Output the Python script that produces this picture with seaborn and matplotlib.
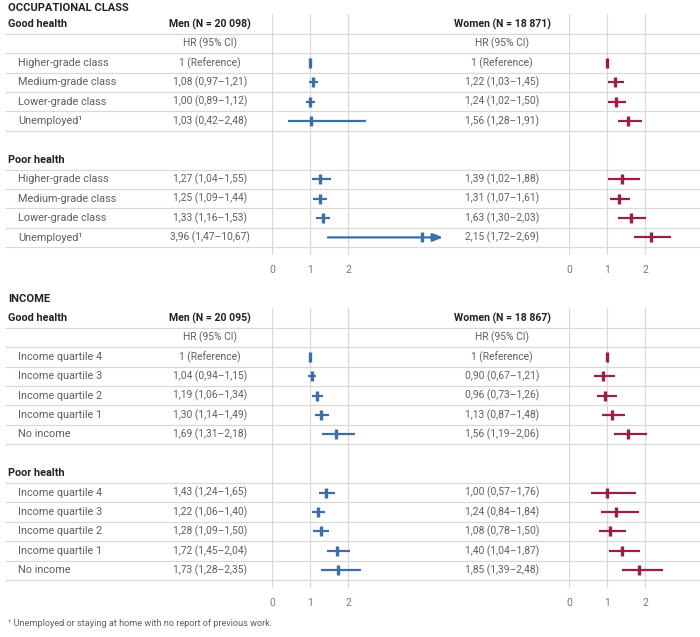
import numpy as np
import pandas as pd
import matplotlib.pyplot as plt
import seaborn as sns

sns.set_theme(style='white')
plt.rcParams['font.family'] = ['Roboto', 'DejaVu Sans']

# ---- data: occupational class ----
occ_cats = ['Higher-grade class', 'Medium-grade class', 'Lower-grade class', 'Unemployed\u00b9']
occ_men_n = '20 098'
occ_women_n = '18 871'
occ_men_good_hr = [1.00, 1.08, 1.00, 1.03]
occ_men_good_lo = [np.nan, 0.97, 0.89, 0.42]
occ_men_good_hi = [np.nan, 1.21, 1.12, 2.48]
occ_women_good_hr = [1.00, 1.22, 1.24, 1.56]
occ_women_good_lo = [np.nan, 1.03, 1.02, 1.28]
occ_women_good_hi = [np.nan, 1.45, 1.50, 1.91]
occ_men_poor_hr = [1.27, 1.25, 1.33, 3.96]
occ_men_poor_lo = [1.04, 1.09, 1.16, 1.47]
occ_men_poor_hi = [1.55, 1.44, 1.53, 10.67]
occ_women_poor_hr = [1.39, 1.31, 1.63, 2.15]
occ_women_poor_lo = [1.02, 1.07, 1.30, 1.72]
occ_women_poor_hi = [1.88, 1.61, 2.03, 2.69]

# ---- data: income ----
inc_cats = ['Income quartile 4', 'Income quartile 3', 'Income quartile 2', 'Income quartile 1', 'No income']
inc_men_n = '20 095'
inc_women_n = '18 867'
inc_men_good_hr = [1.00, 1.04, 1.19, 1.30, 1.69]
inc_men_good_lo = [np.nan, 0.94, 1.06, 1.14, 1.31]
inc_men_good_hi = [np.nan, 1.15, 1.34, 1.49, 2.18]
inc_women_good_hr = [1.00, 0.90, 0.96, 1.13, 1.56]
inc_women_good_lo = [np.nan, 0.67, 0.73, 0.87, 1.19]
inc_women_good_hi = [np.nan, 1.21, 1.26, 1.48, 2.06]
inc_men_poor_hr = [1.43, 1.22, 1.28, 1.72, 1.73]
inc_men_poor_lo = [1.24, 1.06, 1.09, 1.45, 1.28]
inc_men_poor_hi = [1.65, 1.40, 1.50, 2.04, 2.35]
inc_women_poor_hr = [1.00, 1.24, 1.08, 1.40, 1.85]
inc_women_poor_lo = [0.57, 0.84, 0.78, 1.04, 1.39]
inc_women_poor_hi = [1.76, 1.84, 1.50, 1.87, 2.48]

ticks = [0, 1, 2]
footnote = '\u00b9 Unemployed or staying at home with no report of previous work.'

BLUE = '#3d6ea6'
RED = '#9a1f42'
DARK = '#222222'
GREY = '#5f5f5f'
LINE = '#d9d9d9'

W, H = 700, 637
ROW = 19.4          # px per table row
PX_UNIT = 38        # px per HR unit
MEN_CAP = 4.5       # CI beyond this is drawn as an arrow

fig = plt.figure(figsize=(7, 6.37), dpi=100)


def fmt(hr, lo, hi):
    if np.isnan(lo):
        return '1 (Reference)'
    f = lambda v: f'{v:.2f}'.replace('.', ',')
    return f'{f(hr)} ({f(lo)}\u2013{f(hi)})'


def forest(ax, rows, hr, lo, hi, color, cap=None):
    df = pd.DataFrame({'row': rows, 'hr': hr, 'lo': lo, 'hi': hi})
    ci = df.dropna()
    if cap is not None:
        over = ci[ci.hi > cap]
        ci = ci[ci.hi <= cap]
        for _, r in over.iterrows():
            ax.annotate('', xy=(cap, r.row), xytext=(r.lo, r.row),
                        arrowprops=dict(arrowstyle='-|>,head_length=0.5,head_width=0.2',
                                        color=color, lw=1.6, shrinkA=0, shrinkB=0))
    ax.hlines(ci.row, ci.lo, ci.hi, color=color, lw=1.6)
    sns.scatterplot(data=df, x='hr', y='row', marker='|', s=45, linewidth=2.4,
                    color=color, edgecolor=color, ax=ax, legend=False, zorder=3)


def section(top_px, title, title_y, cats, men_n, women_n, men, women):
    n = len(cats)
    nrows = 4 + 2 * n
    bottom_px = top_px + ROW * (nrows + 0.42)
    b = 1 - bottom_px / H
    h = (bottom_px - top_px) / H
    ylim = (nrows - 1 + 0.92, -0.5)

    tab = fig.add_axes([0, b, 1, h])
    tab.set_xlim(0, W)
    tab.set_ylim(*ylim)
    tab.axis('off')

    good_rows = list(range(2, 2 + n))
    poor_rows = list(range(4 + n, 4 + 2 * n))
    blank = 2 + n
    for i in range(nrows):
        if i != blank:
            tab.hlines(i + 0.5, 5, W, color=LINE, lw=0.9)

    tab.text(8, title_y, title, ha='left', va='center', fontsize=8, fontweight='bold', color=DARK)
    tab.text(8, 0, 'Good health', ha='left', va='center', fontsize=7.8, fontweight='bold', color=DARK)
    tab.text(8, 3 + n, 'Poor health', ha='left', va='center', fontsize=7.8, fontweight='bold', color=DARK)
    tab.text(210, 0, f'Men (N = {men_n})', ha='center', va='center', fontsize=7.6, fontweight='bold', color=DARK)
    tab.text(502, 0, f'Women (N = {women_n})', ha='center', va='center', fontsize=7.6, fontweight='bold', color=DARK)
    tab.text(210, 1, 'HR (95% CI)', ha='center', va='center', fontsize=7.4, color=GREY)
    tab.text(502, 1, 'HR (95% CI)', ha='center', va='center', fontsize=7.4, color=GREY)

    (mg_hr, mg_lo, mg_hi), (mp_hr, mp_lo, mp_hi) = men
    (wg_hr, wg_lo, wg_hi), (wp_hr, wp_lo, wp_hi) = women
    for rows, mh, ml, mu, wh, wl, wu in [(good_rows, mg_hr, mg_lo, mg_hi, wg_hr, wg_lo, wg_hi),
                                         (poor_rows, mp_hr, mp_lo, mp_hi, wp_hr, wp_lo, wp_hi)]:
        for k, r in enumerate(rows):
            tab.text(18, r, cats[k], ha='left', va='center', fontsize=7.8, color=GREY)
            tab.text(210, r, fmt(mh[k], ml[k], mu[k]), ha='center', va='center', fontsize=7.4, color=GREY)
            tab.text(502, r, fmt(wh[k], wl[k], wu[k]), ha='center', va='center', fontsize=7.4, color=GREY)

    axes = []
    for left_px, right_px in [(272, 272 + 4.6 * PX_UNIT), (569, W)]:
        ax = fig.add_axes([left_px / W, b, (right_px - left_px) / W, h])
        ax.set_xlim(0, (right_px - left_px) / PX_UNIT)
        ax.set_ylim(*ylim)
        ax.patch.set_alpha(0)
        for s in ax.spines.values():
            s.set_visible(False)
        for t in ticks:
            ax.axvline(t, color=LINE, lw=0.9, zorder=0)
        ax.set_xticks(ticks)
        ax.set_xticklabels([str(t) for t in ticks], fontsize=7.4, color='#777777')
        ax.tick_params(axis='x', length=0, pad=7)
        ax.set_yticks([])
        axes.append(ax)

    forest(axes[0], good_rows, mg_hr, mg_lo, mg_hi, BLUE, cap=MEN_CAP)
    forest(axes[0], poor_rows, mp_hr, mp_lo, mp_hi, BLUE, cap=MEN_CAP)
    forest(axes[1], good_rows, wg_hr, wg_lo, wg_hi, RED)
    forest(axes[1], poor_rows, wp_hr, wp_lo, wp_hi, RED)
    for ax in axes:
        ax.set_xlabel('')
        ax.set_ylabel('')


section(14.3, 'OCCUPATIONAL CLASS', -0.85, occ_cats, occ_men_n, occ_women_n,
        [(occ_men_good_hr, occ_men_good_lo, occ_men_good_hi), (occ_men_poor_hr, occ_men_poor_lo, occ_men_poor_hi)],
        [(occ_women_good_hr, occ_women_good_lo, occ_women_good_hi), (occ_women_poor_hr, occ_women_poor_lo, occ_women_poor_hi)])

section(308.3, 'INCOME', -0.98, inc_cats, inc_men_n, inc_women_n,
        [(inc_men_good_hr, inc_men_good_lo, inc_men_good_hi), (inc_men_poor_hr, inc_men_poor_lo, inc_men_poor_hi)],
        [(inc_women_good_hr, inc_women_good_lo, inc_women_good_hi), (inc_women_poor_hr, inc_women_poor_lo, inc_women_poor_hi)])

fig.text(8 / W, 1 - 623 / H, footnote, ha='left', va='center', fontsize=6.6, color=GREY)

fig.savefig('out.png', dpi=100)
